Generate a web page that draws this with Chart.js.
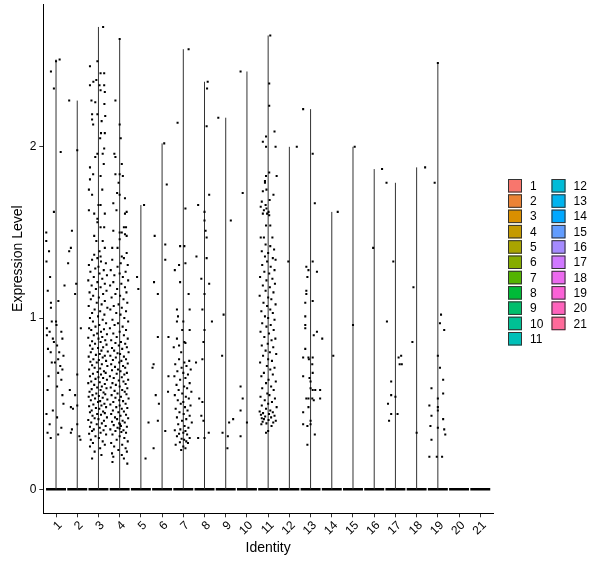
<!DOCTYPE html>
<html lang="en">
<head>
    <meta charset="UTF-8">
    <title>Expression Level by Identity</title>
    <script src="https://cdn.jsdelivr.net/npm/chart.js"></script>
    <style>
        body, html {
            margin: 0;
            padding: 0;
            background: #fff;
        }
        #wrap {
            width: 600px;
            height: 568px;
        }
    </style>
</head>
<body>
    <div id="wrap"><canvas id="chart" width="600" height="568"></canvas></div>

    <script>
        // Identities (x categories) and their ggplot hue colours
        const identities = ['1','2','3','4','5','6','7','8','9','10','11','12','13','14','15','16','17','18','19','20','21'];
        const clusterColors = ['#F8766D','#EB8335','#DA8F00','#C49A00','#A9A400','#86AC00','#53B400','#00BA38','#00BE6C','#00C094','#00C0B8',
                               '#00BCD8','#00B4EF','#00A8FF','#619CFF','#A58AFF','#D078FF','#EC69EF','#FB61D7','#FF62BC','#FF6A9A'];
        const yTickValues = [0, 1, 2];

        // Non-zero cells per identity: [jitter offset, expression level]
        const expr1 = [[0.0,2.50],[0.17,2.51],[-0.24,2.44],[-0.1,2.34],[0.22,1.97],[-0.1,1.62],[-0.46,1.50],[-0.46,1.45],[-0.33,1.39],[-0.28,1.24],[-0.39,1.16],[-0.24,1.09],[-0.24,1.06],[0.11,1.10],[-0.2,0.98],[0.0,0.98],[0.02,0.96],[-0.43,0.94],[-0.43,0.90],[-0.3,0.92],[-0.15,0.88],[0.25,0.92],[0.3,0.88],[-0.1,0.86],[0.05,0.84],[-0.38,0.82],[-0.25,0.80],[0.15,0.80],[0.35,0.78],[0.1,0.76],[-0.2,0.74],[0.2,0.72],[0.3,0.70],[0.1,0.68],[-0.35,0.66],[0.25,0.64],[0.05,0.60],[-0.4,0.58],[0.3,0.55],[0.35,0.50],[-0.15,0.46],[-0.45,0.44],[0.05,0.42],[-0.3,0.38],[0.25,0.36],[-0.4,0.33],[-0.25,0.30],[0.1,0.32],[-0.05,0.74],[-0.45,1.33],[0.4,1.19]];
        const expr2 = [[-0.38,2.27],[0.0,1.98],[-0.25,1.51],[-0.3,1.41],[-0.38,1.39],[-0.43,1.32],[-0.05,1.20],[-0.1,1.14],[0.17,0.94],[0.0,0.67],[-0.35,0.58],[-0.1,0.55],[-0.2,0.47],[0.0,0.49],[-0.3,0.48],[-0.25,0.35],[0.0,0.38],[-0.3,0.33],[0.1,0.31],[0.15,0.29]];
        const expr3 = [[0.22,2.70],[-0.05,2.50],[-0.4,2.47],[0.1,2.43],[0.27,2.43],[-0.1,2.39],[-0.24,2.38],[-0.4,2.36],[0.05,2.36],[0.27,2.36],[0.1,2.33],[0.3,2.32],[-0.33,2.27],[-0.15,2.26],[0.28,2.25],[-0.3,2.19],[-0.05,2.19],[0.32,2.18],[-0.3,2.16],[-0.25,2.13],[0.15,2.15],[0.12,2.08],[0.3,2.08],[0.08,2.05],[0.27,1.99],[-0.05,1.96],[0.2,1.96],[-0.15,1.94],[0.25,1.90],[-0.4,1.88],[0.1,1.83],[-0.25,1.84],[-0.4,1.81],[0.18,1.75],[-0.45,1.75],[-0.3,1.72],[0.0,1.66],[0.1,1.66],[-0.45,1.63],[-0.2,1.61],[0.3,1.61],[-0.05,1.58],[0.1,1.53],[0.27,1.53],[-0.05,1.56],[-0.2,1.48],[-0.1,1.45],[0.2,1.45],[0.05,1.39],[0.3,1.41],[-0.2,1.37],[-0.05,1.35],[0.1,1.36],
            [-0.3,1.34],[0.12,1.33],[0.35,1.32],[-0.45,1.31],[0.0,1.30],[-0.15,1.29],[0.25,1.28],[-0.38,1.27],[0.05,1.26],[0.4,1.25],[-0.22,1.24],[0.18,1.23],[-0.48,1.22],[-0.05,1.21],[0.3,1.20],[-0.32,1.19],[0.1,1.18],[-0.12,1.17],[0.38,1.16],[-0.42,1.15],[0.22,1.14],[-0.25,1.13],[0.02,1.12],[-0.36,1.11],[0.3,1.10],[-0.08,1.09],[0.15,1.08],[-0.46,1.07],[0.42,1.06],[-0.18,1.05],[0.08,1.04],[-0.3,1.03],[0.28,1.02],[-0.02,1.01],[-0.4,1.00],[0.2,0.99],[-0.26,0.98],[0.36,0.97],[0.04,0.96],[-0.14,0.95],[-0.44,0.94],[0.26,0.935],[-0.34,0.93],[0.12,0.92],[-0.06,0.91],[0.4,0.905],[-0.22,0.90],[0.18,0.89],[-0.48,0.885],[0.0,0.88],[0.32,0.87],[-0.3,0.865],[0.1,0.86],[-0.16,0.85],[0.38,0.845],[-0.4,0.84],[0.22,0.83],[-0.02,0.825],[-0.28,0.82],[0.14,0.81],[0.44,0.805],[-0.36,0.80],[0.06,0.79],[-0.12,0.785],[0.3,0.78],[-0.46,0.775],[0.2,0.77],[-0.24,0.76],[0.02,0.755],[0.36,0.75],[-0.38,0.745],[-0.08,0.74],[0.16,0.73],[-0.3,0.725],[0.42,0.72],[-0.18,0.71],[0.08,0.705],[-0.44,0.70],[0.26,0.69],[-0.04,0.685],[0.34,0.68],[-0.26,0.675],[0.12,0.67],[-0.4,0.66],[0.0,0.655],[0.22,0.65],[-0.14,0.645],[0.4,0.64],[-0.34,0.63],[0.06,0.625],[-0.48,0.62],[0.3,0.615],[-0.2,0.61],[0.16,0.60],[-0.06,0.595],[0.38,0.59],[-0.32,0.585],[0.1,0.58],[-0.42,0.57],[0.24,0.565],[-0.1,0.56],[0.32,0.555],[-0.28,0.55],[0.02,0.545],[-0.46,0.54],[0.2,0.535],[-0.16,0.53],[0.42,0.525],[-0.36,0.52],[0.08,0.515],[-0.02,0.51],[0.28,0.50],[-0.24,0.495],[0.14,0.49],[-0.44,0.485],[0.36,0.48],[-0.12,0.475],[0.04,0.47],[-0.32,0.46],[0.22,0.455],[-0.4,0.45],[0.3,0.445],[-0.06,0.44],[0.12,0.435],[-0.28,0.43],[0.4,0.42],[-0.18,0.415],[0.0,0.41],[-0.48,0.405],[0.26,0.40],[-0.34,0.39],[0.16,0.385],[-0.08,0.38],[0.34,0.37],[-0.4,0.365],[0.06,0.36],[-0.22,0.35],[0.24,0.345],[-0.3,0.34],[0.1,0.33],[-0.44,0.325],[0.36,0.32],[-0.14,0.31],[0.02,0.30],[-0.36,0.29],[0.2,0.28],[-0.26,0.27],[0.3,0.26],[-0.4,0.25],[0.08,0.24],[-0.18,0.22],[0.14,0.20],[-0.3,0.18]];
        const expr4 = [[0.0,2.63],[-0.2,2.27],[0.0,2.13],[0.05,2.05],[-0.25,1.96],[-0.2,1.94],[0.1,1.90],[-0.2,1.84],[0.0,1.84],[0.15,1.83],[-0.05,1.79],[-0.12,1.73],[0.0,1.72],[0.25,1.70],[-0.3,1.67],[-0.15,1.63],[0.33,1.62],[0.25,1.61],[0.2,1.53],[0.3,1.53],[-0.3,1.51],[0.1,1.50],[0.0,1.50],[0.25,1.49],[0.33,1.48],[0.0,1.46],[-0.1,1.41],[0.33,1.38],[-0.35,1.41],[0.1,1.36],
            [0.2,1.35],[-0.35,1.34],[0.05,1.32],[0.38,1.31],[-0.1,1.30],[-0.42,1.28],[0.28,1.27],[0.0,1.26],[-0.25,1.25],[0.15,1.24],[0.4,1.22],[-0.3,1.21],[0.08,1.20],[-0.45,1.19],[0.25,1.18],[-0.12,1.17],[0.32,1.15],[-0.2,1.14],[0.02,1.13],[-0.38,1.12],[0.18,1.11],[0.36,1.09],[-0.05,1.08],[-0.28,1.07],[0.1,1.06],[-0.44,1.05],[0.3,1.04],[-0.16,1.03],[0.04,1.02],[0.22,1.00],[-0.34,0.99],[0.4,0.98],[-0.08,0.97],[-0.24,0.96],[0.14,0.95],[-0.46,0.94],[0.3,0.93],[0.0,0.92],[-0.3,0.91],[0.2,0.90],[-0.14,0.89],[0.38,0.88],[-0.4,0.87],[0.06,0.86],[-0.2,0.855],[0.26,0.85],[-0.04,0.84],[0.34,0.83],[-0.36,0.825],[0.12,0.82],[-0.26,0.81],[0.42,0.80],[-0.1,0.795],[0.02,0.79],[-0.44,0.78],[0.2,0.775],[-0.18,0.77],[0.3,0.76],[-0.32,0.755],[0.08,0.75],[-0.02,0.74],[0.38,0.735],[-0.4,0.73],[0.16,0.72],[-0.22,0.715],[0.26,0.71],[-0.08,0.70],[-0.36,0.695],[0.04,0.69],[0.34,0.68],[-0.14,0.675],[0.22,0.67],[-0.46,0.66],[0.1,0.655],[-0.28,0.65],[0.4,0.64],[-0.04,0.635],[0.18,0.63],[-0.34,0.62],[0.28,0.615],[-0.18,0.61],[0.0,0.60],[-0.42,0.595],[0.36,0.59],[0.12,0.58],[-0.24,0.575],[0.24,0.57],[-0.1,0.56],[0.32,0.555],[-0.38,0.55],[0.06,0.54],[-0.2,0.535],[0.42,0.53],[-0.02,0.52],[0.16,0.515],[-0.3,0.51],[0.28,0.50],[-0.44,0.495],[0.0,0.49],[-0.16,0.48],[0.36,0.475],[0.1,0.47],[-0.32,0.46],[0.2,0.455],[-0.06,0.45],[-0.4,0.44],[0.3,0.435],[0.04,0.43],[-0.22,0.42],[0.4,0.415],[-0.12,0.41],[0.14,0.40],[-0.36,0.395],[0.24,0.39],[-0.02,0.385],[0.02,0.38],[-0.28,0.375],[0.06,0.37],[0.34,0.365],[-0.1,0.36],[0.0,0.355],[-0.44,0.35],[0.18,0.345],[-0.2,0.34],[0.08,0.335],[0.3,0.33],[-0.34,0.32],[0.0,0.31],[0.22,0.30],[-0.14,0.29],[0.38,0.28],[-0.4,0.27],[0.12,0.26],[-0.26,0.25],[0.28,0.24],[-0.06,0.23],[0.34,0.22],[-0.36,0.21],[0.1,0.20],[-0.3,0.19],[0.2,0.18],[-0.34,0.16],[0.36,0.15]];
        const expr5 = [[0.15,1.66],[-0.18,1.24],[-0.12,1.17],[0.36,0.39],[0.22,0.18]];
        const expr6 = [[0.1,2.02],[0.22,1.78],[-0.35,1.48],[0.15,1.43],[0.15,1.34],[-0.38,1.21],[-0.2,1.14],[-0.2,0.89],[0.3,0.89],[-0.4,0.73],[-0.45,0.71],[0.3,0.66],[0.28,0.57],[-0.3,0.55],[-0.15,0.50],[-0.2,0.40],[0.15,0.34],[-0.4,0.24]];
        const expr7 = [[0.25,2.57],[-0.27,2.14],[0.1,1.64],[-0.15,1.42],[0.05,1.42],[-0.2,1.31],[0.1,1.32],[-0.4,1.28],[-0.15,1.21],[0.25,1.14],[-0.3,1.05],[-0.25,1.01],[0.3,1.05],[-0.3,0.98],[0.0,0.98],[-0.05,0.93],[0.3,0.93],[-0.3,0.88],[-0.2,0.84],[0.05,0.86],[0.1,0.855],[-0.45,0.83],[-0.1,0.80],
            [-0.2,0.76],[0.28,0.75],[0.05,0.74],[-0.38,0.73],[0.15,0.72],[-0.08,0.71],[0.35,0.70],[-0.28,0.69],[0.0,0.68],[0.22,0.67],[-0.42,0.66],[0.1,0.65],[-0.15,0.64],[0.3,0.62],[-0.32,0.61],[0.04,0.60],[0.18,0.59],[-0.22,0.58],[0.38,0.57],[-0.05,0.56],[-0.4,0.55],[0.12,0.54],[0.26,0.53],[-0.26,0.52],[0.0,0.51],[-0.12,0.50],[0.34,0.49],[0.08,0.48],[-0.36,0.47],[0.2,0.46],[-0.18,0.45],[0.02,0.44],[0.3,0.43],[-0.3,0.42],[0.14,0.41],[-0.06,0.40],[0.4,0.39],[-0.24,0.38],[0.06,0.37],[0.24,0.36],[-0.14,0.35],[-0.4,0.345],[0.1,0.34],[0.0,0.33],[-0.2,0.325],[0.18,0.32],[-0.3,0.31],[0.3,0.30],[-0.08,0.295],[0.04,0.29],[0.14,0.28],[-0.16,0.275],[0.22,0.27],[-0.36,0.26],[0.0,0.25],[0.1,0.24],[-0.1,0.23]];
        const expr8 = [[0.15,2.38],[0.12,2.34],[0.1,2.12],[0.22,1.72],[-0.3,1.66],[0.0,1.62],[0.0,1.57],[0.05,1.51],[0.1,1.47],[-0.38,1.36],[0.1,1.35],[-0.15,1.23],[0.22,1.20],[0.0,1.14],[-0.1,1.05],[0.35,0.98],[0.0,0.93],[-0.05,0.86],[-0.4,0.74],[-0.1,0.76],[-0.25,0.53],[-0.1,0.51],[-0.15,0.43],[-0.05,0.40],[0.2,0.33],[-0.3,0.30],[0.0,0.30]];
        const expr9 = [[-0.35,2.17],[0.24,1.57],[-0.1,1.02],[-0.17,0.78],[0.35,0.41],[0.16,0.39],[-0.15,0.33],[0.1,0.31],[0.08,0.24]];
        const expr10 = [[-0.3,2.44],[-0.2,1.73],[-0.3,0.60],[-0.2,0.53],[-0.3,0.46],[0.0,0.39],[-0.3,0.31]];
        const expr11 = [[0.1,2.65],[0.05,2.37],[0.05,2.24],[0.3,2.09],[-0.1,2.06],[-0.25,2.03],[-0.1,2.00],[0.35,2.00],[0.05,1.85],[-0.1,1.83],[0.4,1.83],[-0.15,1.80],[-0.15,1.79],[-0.08,1.75],[-0.25,1.74],[0.25,1.72],[0.07,1.69],[-0.3,1.68],[-0.12,1.66],[-0.35,1.65],[-0.2,1.63],[-0.08,1.64],[0.02,1.62],[-0.25,1.61],[-0.05,1.61],[0.05,1.60],[-0.1,1.54],[0.1,1.54],
            [-0.35,1.47],[-0.2,1.47],[0.2,1.47],[-0.12,1.43],[0.1,1.42],[0.28,1.40],[-0.3,1.39],[0.0,1.38],[-0.15,1.36],[0.22,1.35],[0.35,1.34],[-0.05,1.33],[-0.28,1.31],[0.12,1.30],[0.3,1.28],[-0.18,1.27],[0.05,1.26],[-0.38,1.24],[0.2,1.23],[-0.08,1.22],[0.32,1.20],[-0.25,1.19],[0.08,1.18],[-0.12,1.16],[0.25,1.15],[-0.4,1.13],[0.0,1.12],[0.15,1.11],[-0.22,1.09],[0.35,1.08],[-0.05,1.07],[0.1,1.05],[-0.32,1.04],[0.22,1.03],[-0.15,1.01],[0.0,1.00],[0.3,0.99],[-0.28,0.97],[0.12,0.96],[-0.08,0.95],[0.26,0.93],[-0.36,0.92],[0.04,0.91],[-0.18,0.89],[0.34,0.88],[0.16,0.87],[-0.02,0.85],[-0.3,0.84],[0.24,0.83],[-0.12,0.81],[0.08,0.80],[0.38,0.79],[-0.24,0.78],[0.0,0.76],[0.18,0.75],[-0.38,0.74],[-0.06,0.72],[0.3,0.71],[0.1,0.70],[-0.2,0.68],[0.22,0.67],[-0.32,0.66],[0.02,0.64],[0.36,0.63],[-0.1,0.62],[0.14,0.60],[-0.28,0.59],[0.26,0.58],[-0.04,0.56],[0.06,0.55],[-0.36,0.54],[0.32,0.53],[-0.16,0.52],[0.18,0.51],[0.0,0.50],[-0.3,0.49],[0.4,0.48],[-0.1,0.47],[0.1,0.46],[-0.4,0.455],[0.22,0.45],[-0.24,0.445],[0.04,0.44],[-0.34,0.435],[0.3,0.43],[-0.14,0.425],[0.14,0.42],[-0.3,0.415],[-0.2,0.41],[0.02,0.405],[0.36,0.40],[-0.26,0.395],[0.24,0.39],[-0.08,0.385],[-0.32,0.38],[0.16,0.37],[0.0,0.34],[-0.1,0.33]];
        const expr12 = [[0.35,2.0],[-0.05,1.33]];
        const expr13 = [[-0.35,2.22],[0.1,1.96],[0.2,1.67],[0.1,1.33],[-0.2,1.30],[-0.1,1.28],[0.3,1.27],[-0.15,1.24],[-0.2,1.16],[-0.2,1.14],[0.1,1.10],[-0.25,1.09],[-0.25,1.01],[-0.25,0.96],[-0.25,0.94],[0.15,0.90],[0.3,0.92],[0.55,0.88],[-0.25,0.82],[-0.35,0.77],[-0.1,0.77],[-0.08,0.76],[0.1,0.77],[0.08,0.73],[0.1,0.68],[-0.35,0.66],[-0.05,0.65],[0.0,0.63],[0.0,0.59],[0.1,0.58],[0.22,0.58],[0.45,0.58],[-0.2,0.53],[-0.1,0.53],[0.08,0.53],[0.15,0.52],[0.45,0.53],[-0.1,0.48],[-0.35,0.45],[0.0,0.40],[-0.35,0.38],[-0.15,0.37],[0.0,0.38],[0.2,0.32],[-0.15,0.26]];
        const expr14 = [[0.28,1.62],[0.07,0.78]];
        const expr15 = [[0.08,2.0],[0.0,0.96]];
        const expr16 = [[0.37,1.87],[-0.05,1.41]];
        const expr17 = [[-0.42,1.79],[-0.1,1.33],[-0.4,0.98],[0.15,0.77],[0.27,0.78],[0.2,0.73],[0.3,0.73],[-0.2,0.63],[-0.2,0.55],[0.0,0.54],[-0.35,0.50],[0.1,0.44],[-0.2,0.44],[-0.3,0.40]];
        const expr18 = [[0.4,1.88],[-0.15,1.18],[-0.2,0.86],[0.0,0.33]];
        const expr19 = [[0.0,2.49],[-0.15,1.79],[0.15,1.02],[0.1,0.97],[0.3,0.93],[0.0,0.78],[0.1,0.71],[0.25,0.64],[-0.3,0.59],[0.25,0.56],[0.0,0.53],[-0.4,0.49],[0.0,0.48],[0.0,0.46],[-0.3,0.43],[0.25,0.41],[-0.35,0.37],[0.0,0.36],[0.3,0.35],[0.35,0.32],[-0.3,0.29],[-0.4,0.19],[-0.05,0.19],[0.2,0.19]];
        const expr20 = [];
        const expr21 = [];

        const clusterPoints = [expr1, expr2, expr3, expr4, expr5, expr6, expr7, expr8, expr9, expr10, expr11,
                               expr12, expr13, expr14, expr15, expr16, expr17, expr18, expr19, expr20, expr21];

        // Build datasets: flat violins at zero, thin violin spines up to max, jittered points
        const zeroBars = [];
        const spines = [];
        const dots = [];
        clusterPoints.forEach((pts, i) => {
            const c = i + 1;
            zeroBars.push({x: c - 0.47, y: 0}, {x: c + 0.47, y: 0}, {x: c, y: null});
            if (pts.length) {
                const top = Math.max(...pts.map(p => p[1]));
                spines.push({x: c, y: 0}, {x: c, y: top}, {x: c, y: null});
            }
            pts.forEach(([dx, v]) => dots.push({x: c + dx, y: v}));
        });

        const FONT = '"Liberation Sans", Arial, sans-serif';

        // Two-column identity legend on the right
        const identLegend = {
            id: 'identLegend',
            afterDraw(chart) {
                const ctx = chart.ctx;
                ctx.save();
                ctx.font = '12px ' + FONT;
                ctx.textBaseline = 'middle';
                ctx.textAlign = 'left';
                identities.forEach((id, i) => {
                    const col = i < 11 ? 0 : 1;
                    const row = i < 11 ? i : i - 11;
                    const x = 508 + col * 43.5;
                    const y = 179 + row * 15.3;
                    ctx.fillStyle = clusterColors[i];
                    ctx.fillRect(x, y, 14, 13.5);
                    ctx.strokeStyle = '#333';
                    ctx.lineWidth = 1;
                    ctx.strokeRect(x + 0.5, y + 0.5, 13, 12.5);
                    ctx.fillStyle = '#000';
                    ctx.fillText(id, x + 22, y + 7.5);
                });
                ctx.restore();
            }
        };

        new Chart(document.getElementById('chart'), {
            type: 'scatter',
            data: {
                datasets: [
                    {
                        type: 'line',
                        data: zeroBars,
                        borderColor: '#000',
                        borderWidth: 2.5,
                        pointRadius: 0,
                        spanGaps: false,
                        order: 2
                    },
                    {
                        type: 'line',
                        data: spines,
                        borderColor: '#333',
                        borderWidth: 1,
                        pointRadius: 0,
                        spanGaps: false,
                        order: 1
                    },
                    {
                        data: dots,
                        pointStyle: 'rect',
                        pointRadius: 1.45,
                        pointBorderWidth: 0,
                        backgroundColor: '#000',
                        borderColor: '#000',
                        order: 0
                    }
                ]
            },
            options: {
                responsive: false,
                animation: false,
                layout: { padding: { left: 0, right: 107, top: 3.5, bottom: 0 } },
                plugins: {
                    legend: { display: false },
                    tooltip: { enabled: false }
                },
                scales: {
                    x: {
                        type: 'linear',
                        min: 0.4,
                        max: 21.6,
                        afterBuildTicks: s => { s.ticks = identities.map((_, i) => ({value: i + 1})); },
                        afterFit: s => { s.height = 568 - 513.3; s.paddingLeft = 0; s.paddingRight = 0; },
                        grid: { drawOnChartArea: false, color: '#333', tickLength: 4 },
                        border: { display: true, color: '#000', width: 1 },
                        ticks: {
                            autoSkip: false,
                            minRotation: 45,
                            maxRotation: 45,
                            padding: 1,
                            labelOffset: 4,
                            color: '#000',
                            font: { family: FONT, size: 12 },
                            callback: v => identities[v - 1]
                        },
                        title: {
                            display: true,
                            text: 'Identity',
                            color: '#000',
                            font: { family: FONT, size: 14 },
                            padding: { top: 0, bottom: 11.5 }
                        }
                    },
                    y: {
                        type: 'linear',
                        min: -0.14,
                        max: 2.834,
                        afterBuildTicks: s => { s.ticks = yTickValues.map(v => ({value: v})); },
                        afterFit: s => { s.width = 43.3; s.paddingTop = 0; s.paddingBottom = 0; },
                        grid: { drawOnChartArea: false, color: '#333', tickLength: 4 },
                        border: { display: true, color: '#000', width: 1 },
                        ticks: {
                            padding: 3,
                            color: '#000',
                            font: { family: FONT, size: 12 }
                        },
                        title: {
                            display: true,
                            text: 'Expression Level',
                            color: '#000',
                            font: { family: FONT, size: 14 },
                            padding: { top: 9.6, bottom: 0 }
                        }
                    }
                }
            },
            plugins: [identLegend]
        });
    </script>
</body>
</html>
